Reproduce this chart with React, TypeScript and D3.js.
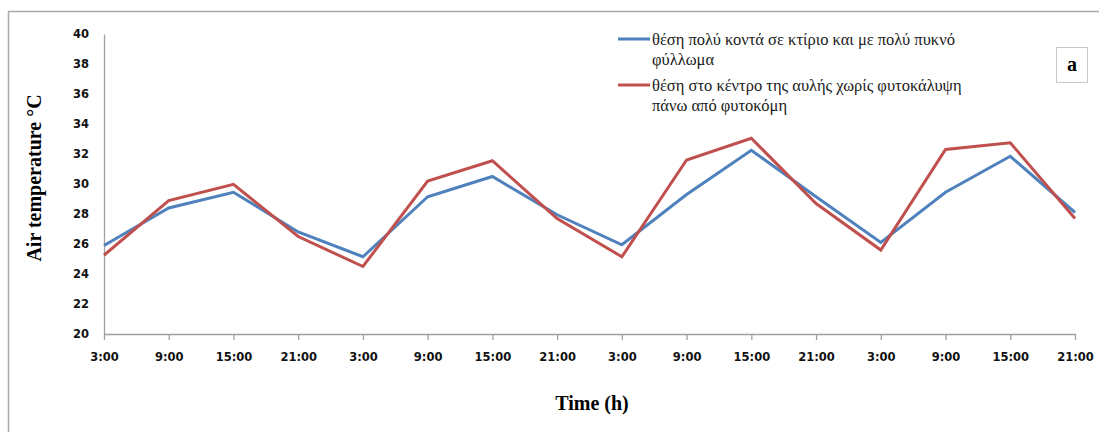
import React, { useEffect, useRef } from "react";
import * as d3 from "d3";

// Hour labels of the 16 six-hourly readings
const timeLabels = [
  "3:00", "9:00", "15:00", "21:00",
  "3:00", "9:00", "15:00", "21:00",
  "3:00", "9:00", "15:00", "21:00",
  "3:00", "9:00", "15:00", "21:00",
];

// Air temperature (°C) near a building under dense foliage
const nearBuilding = [
  25.9, 28.4, 29.45, 26.8, 25.15, 29.15, 30.5, 27.95,
  25.95, 29.3, 32.25, 29.15, 26.1, 29.45, 31.85, 28.1,
];

// Air temperature (°C) in the middle of the courtyard, no canopy cover
const courtyardCentre = [
  25.25, 28.9, 29.98, 26.5, 24.5, 30.2, 31.55, 27.7,
  25.15, 31.6, 33.05, 28.7, 25.6, 32.3, 32.75, 27.7,
];

const yTicks = [20, 22, 24, 26, 28, 30, 32, 34, 36, 38, 40];

const seriesNames = [
  ["θέση πολύ κοντά σε κτίριο και με πολύ πυκνό", "φύλλωμα"],
  ["θέση στο κέντρο της αυλής χωρίς φυτοκάλυψη", "πάνω από φυτοκόμη"],
];

const W = 1099;
const H = 432;
const BLUE = "#4F81BD";
const RED = "#C0504D";

export default function App() {
  const ref = useRef<SVGSVGElement | null>(null);

  useEffect(() => {
    const svg = d3.select(ref.current);
    svg.selectAll("*").remove();

    // Outer chart frame
    svg.append("rect")
      .attr("x", 8.5).attr("y", 11.5)
      .attr("width", W + 20).attr("height", H + 20)
      .attr("fill", "#fff").attr("stroke", "#a9a9a9").attr("stroke-width", 1.5);

    const left = 104, right = 1075, top = 34, bottom = 334;

    const x = d3.scalePoint<number>()
      .domain(d3.range(timeLabels.length))
      .range([left, right]);
    const y = d3.scaleLinear().domain([20, 40]).range([bottom, top]);

    // Y axis: line and labels, no tick marks
    const yAxis = svg.append("g").attr("transform", `translate(${left},0)`)
      .call(d3.axisLeft(y).tickValues(yTicks).tickSize(0).tickPadding(15).tickFormat(d3.format("d")));
    yAxis.select(".domain").attr("stroke", "#a0a0a0").attr("stroke-width", 1.3);
    yAxis.selectAll("text")
      .attr("font-family", "'DejaVu Sans', sans-serif")
      .attr("font-weight", "bold").attr("font-size", 11.5).attr("fill", "#111");

    // X axis with ticks below the line
    const xAxis = svg.append("g").attr("transform", `translate(0,${bottom})`)
      .call(d3.axisBottom(x).tickSize(6).tickSizeOuter(0).tickPadding(13)
        .tickFormat((i) => timeLabels[i as number]));
    xAxis.select(".domain").attr("stroke", "#a0a0a0").attr("stroke-width", 1.3);
    xAxis.selectAll("line").attr("stroke", "#a0a0a0").attr("stroke-width", 1.3);
    xAxis.selectAll("text")
      .attr("font-family", "'DejaVu Sans', sans-serif")
      .attr("font-weight", "bold").attr("font-size", 11.5).attr("fill", "#111");

    const line = d3.line<number>()
      .x((_, i) => x(i) as number)
      .y((d) => y(d));

    [[nearBuilding, BLUE], [courtyardCentre, RED]].forEach(([data, color]) => {
      svg.append("path")
        .datum(data as number[])
        .attr("d", line)
        .attr("fill", "none")
        .attr("stroke", color as string)
        .attr("stroke-width", 3)
        .attr("stroke-linejoin", "miter");
    });

    // Axis titles
    svg.append("text")
      .attr("transform", "translate(41,178) rotate(-90)")
      .attr("text-anchor", "middle")
      .attr("font-family", "'Liberation Serif', 'Times New Roman', serif")
      .attr("font-weight", "bold").attr("font-size", 20).attr("fill", "#000")
      .text("Air temperature °C");

    svg.append("text")
      .attr("x", 592).attr("y", 410)
      .attr("text-anchor", "middle")
      .attr("font-family", "'Liberation Serif', 'Times New Roman', serif")
      .attr("font-weight", "bold").attr("font-size", 20).attr("fill", "#000")
      .text("Time (h)");

    // Legend
    const legendRows = [
      { color: BLUE, y: 39, lines: seriesNames[0] },
      { color: RED, y: 85, lines: seriesNames[1] },
    ];
    legendRows.forEach((row) => {
      svg.append("line")
        .attr("x1", 618).attr("x2", 650)
        .attr("y1", row.y).attr("y2", row.y)
        .attr("stroke", row.color).attr("stroke-width", 3);
      row.lines.forEach((t, k) => {
        svg.append("text")
          .attr("x", 652).attr("y", row.y + 6 + k * 19.5)
          .attr("font-family", "'Liberation Serif', 'Times New Roman', serif")
          .attr("font-size", 16.5).attr("fill", "#1a1a1a")
          .text(t);
      });
    });

    // Panel letter box
    svg.append("rect")
      .attr("x", 1056.5).attr("y", 47.5).attr("width", 31).attr("height", 35)
      .attr("fill", "#fff").attr("stroke", "#c8c8c8").attr("stroke-width", 1);
    svg.append("text")
      .attr("x", 1072).attr("y", 71)
      .attr("text-anchor", "middle")
      .attr("font-family", "'Liberation Serif', 'Times New Roman', serif")
      .attr("font-weight", "bold").attr("font-size", 20).attr("fill", "#000")
      .text("a");
  }, []);

  return (
    <svg
      ref={ref}
      width={W}
      height={H}
      style={{ position: "absolute", left: 0, top: 0, display: "block", background: "#fff" }}
    />
  );
}
